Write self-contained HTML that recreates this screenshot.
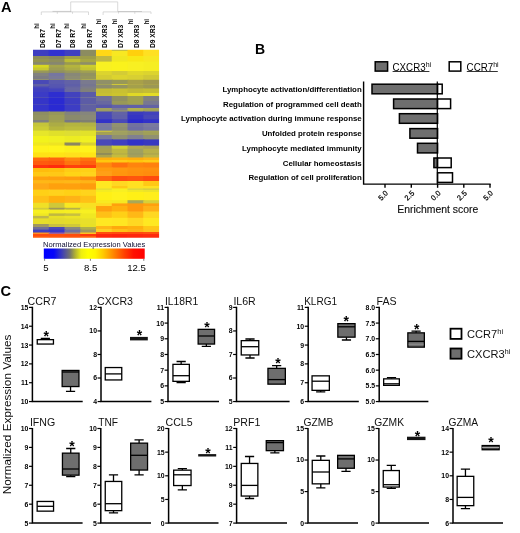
<!DOCTYPE html>
<html><head><meta charset="utf-8"><title>Figure</title>
<style>
html,body{margin:0;padding:0;background:#fff;}
body{width:520px;height:533px;overflow:hidden;font-family:'Liberation Sans', sans-serif;}
svg{display:block;will-change:transform;font-family:"Liberation Sans",sans-serif;}
</style></head><body>
<svg width="520" height="533" viewBox="0 0 520 533">
<rect width="520" height="533" fill="#fff"/>
<text x="0.9" y="12.15" font-size="14.6" font-weight="bold">A</text>
<g stroke="#cacaca" stroke-width="0.7" fill="none">
<path d="M70.7 11.9 V1.9 H117.7 V11.9"/>
<path d="M41.3 15 V11.9 H88.5 V15 M57.3 11.9 V13.8 M72.5 11.9 V13.8"/>
<path d="M103.1 15 V11.9 H151 V14 M134.8 11.9 V13.8 M118.5 11.9 V13.5"/>
<path d="M52.5 11.4 H71.2 M118 11.5 H142" stroke="#b4b4b4" stroke-width="0.6"/>
</g>
<text transform="translate(45.3,48) rotate(-90) scale(0.89,1)" font-size="7.5" font-weight="bold">D6 R7<tspan dy="-6.0" dx="0.4" font-size="6.8">hi</tspan></text>
<text transform="translate(61.0,48) rotate(-90) scale(0.89,1)" font-size="7.5" font-weight="bold">D7 R7<tspan dy="-6.0" dx="0.4" font-size="6.8">hi</tspan></text>
<text transform="translate(74.9,48) rotate(-90) scale(0.89,1)" font-size="7.5" font-weight="bold">D8 R7<tspan dy="-6.0" dx="0.4" font-size="6.8">hi</tspan></text>
<text transform="translate(92.3,48) rotate(-90) scale(0.89,1)" font-size="7.5" font-weight="bold">D9 R7<tspan dy="-6.0" dx="0.4" font-size="6.8">hi</tspan></text>
<text transform="translate(107.4,48) rotate(-90) scale(0.89,1)" font-size="7.5" font-weight="bold">D6 XR3<tspan dy="-6.0" dx="0.4" font-size="6.8">hi</tspan></text>
<text transform="translate(123.3,48) rotate(-90) scale(0.89,1)" font-size="7.5" font-weight="bold">D7 XR3<tspan dy="-6.0" dx="0.4" font-size="6.8">hi</tspan></text>
<text transform="translate(139.2,48) rotate(-90) scale(0.89,1)" font-size="7.5" font-weight="bold">D8 XR3<tspan dy="-6.0" dx="0.4" font-size="6.8">hi</tspan></text>
<text transform="translate(154.6,48) rotate(-90) scale(0.89,1)" font-size="7.5" font-weight="bold">D9 XR3<tspan dy="-6.0" dx="0.4" font-size="6.8">hi</tspan></text>
<defs><clipPath id="hc"><rect x="33.0" y="49.8" width="126.1" height="188.0"/></clipPath><filter id="hb" x="-5%" y="-5%" width="110%" height="110%"><feGaussianBlur stdDeviation="0.45 0.5"/></filter></defs>
<g clip-path="url(#hc)"><g filter="url(#hb)">
<rect x="30.00" y="47.00" width="19.95" height="10.20" fill="#3c3cc0"/>
<rect x="48.75" y="47.00" width="16.95" height="10.20" fill="#3030d0"/>
<rect x="64.50" y="47.00" width="16.95" height="10.20" fill="#4040c0"/>
<rect x="80.25" y="47.00" width="16.95" height="10.20" fill="#8c8c60"/>
<rect x="30.00" y="56.00" width="19.95" height="4.20" fill="#8c8c58"/>
<rect x="48.75" y="56.00" width="16.95" height="4.20" fill="#86865e"/>
<rect x="64.50" y="56.00" width="16.95" height="4.20" fill="#a0a044"/>
<rect x="80.25" y="56.00" width="16.95" height="4.20" fill="#9c9c4c"/>
<rect x="30.00" y="59.00" width="19.95" height="4.40" fill="#949450"/>
<rect x="48.75" y="59.00" width="16.95" height="4.40" fill="#8e8e5c"/>
<rect x="64.50" y="59.00" width="16.95" height="4.40" fill="#bcbc34"/>
<rect x="80.25" y="59.00" width="16.95" height="4.40" fill="#a6a644"/>
<rect x="30.00" y="62.20" width="19.95" height="3.80" fill="#888870"/>
<rect x="48.75" y="62.20" width="16.95" height="3.80" fill="#868672"/>
<rect x="64.50" y="62.20" width="16.95" height="3.80" fill="#9a9a50"/>
<rect x="80.25" y="62.20" width="16.95" height="3.80" fill="#8e8e68"/>
<rect x="30.00" y="64.80" width="19.95" height="4.00" fill="#d8d824"/>
<rect x="48.75" y="64.80" width="16.95" height="4.00" fill="#a4a44e"/>
<rect x="64.50" y="64.80" width="16.95" height="4.00" fill="#b4b43e"/>
<rect x="80.25" y="64.80" width="16.95" height="4.00" fill="#cccc2e"/>
<rect x="30.00" y="67.60" width="19.95" height="4.00" fill="#c8c830"/>
<rect x="48.75" y="67.60" width="16.95" height="4.00" fill="#9c9c54"/>
<rect x="64.50" y="67.60" width="16.95" height="4.00" fill="#acac44"/>
<rect x="80.25" y="67.60" width="16.95" height="4.00" fill="#c4c432"/>
<rect x="30.00" y="70.40" width="19.95" height="3.70" fill="#98985a"/>
<rect x="48.75" y="70.40" width="16.95" height="3.70" fill="#90905e"/>
<rect x="64.50" y="70.40" width="16.95" height="3.70" fill="#98985a"/>
<rect x="80.25" y="70.40" width="16.95" height="3.70" fill="#a0a052"/>
<rect x="30.00" y="72.90" width="19.95" height="4.30" fill="#828280"/>
<rect x="48.75" y="72.90" width="16.95" height="4.30" fill="#7676a0"/>
<rect x="64.50" y="72.90" width="16.95" height="4.30" fill="#888878"/>
<rect x="80.25" y="72.90" width="16.95" height="4.30" fill="#929260"/>
<rect x="30.00" y="76.00" width="19.95" height="4.20" fill="#7c7c84"/>
<rect x="48.75" y="76.00" width="16.95" height="4.20" fill="#7a7a98"/>
<rect x="64.50" y="76.00" width="16.95" height="4.20" fill="#8c8c74"/>
<rect x="80.25" y="76.00" width="16.95" height="4.20" fill="#96965c"/>
<rect x="30.00" y="79.00" width="19.95" height="2.00" fill="#a0a060"/>
<rect x="48.75" y="79.00" width="16.95" height="2.00" fill="#8c8c70"/>
<rect x="64.50" y="79.00" width="16.95" height="2.00" fill="#a4a458"/>
<rect x="80.25" y="79.00" width="16.95" height="2.00" fill="#b4b444"/>
<rect x="30.00" y="79.80" width="19.95" height="5.40" fill="#4a4ab6"/>
<rect x="48.75" y="79.80" width="16.95" height="5.40" fill="#5a5aae"/>
<rect x="64.50" y="79.80" width="16.95" height="5.40" fill="#6262a6"/>
<rect x="80.25" y="79.80" width="16.95" height="5.40" fill="#7a7a8e"/>
<rect x="30.00" y="84.00" width="19.95" height="3.70" fill="#6060a4"/>
<rect x="48.75" y="84.00" width="16.95" height="3.70" fill="#5656b0"/>
<rect x="64.50" y="84.00" width="16.95" height="3.70" fill="#5e5ea8"/>
<rect x="80.25" y="84.00" width="16.95" height="3.70" fill="#767690"/>
<rect x="30.00" y="86.50" width="19.95" height="3.20" fill="#4646ba"/>
<rect x="48.75" y="86.50" width="16.95" height="3.20" fill="#5252b2"/>
<rect x="64.50" y="86.50" width="16.95" height="3.20" fill="#6666a2"/>
<rect x="80.25" y="86.50" width="16.95" height="3.20" fill="#7c7c88"/>
<rect x="30.00" y="88.50" width="19.95" height="4.70" fill="#4040c0"/>
<rect x="48.75" y="88.50" width="16.95" height="4.70" fill="#4444bc"/>
<rect x="64.50" y="88.50" width="16.95" height="4.70" fill="#6868a0"/>
<rect x="80.25" y="88.50" width="16.95" height="4.70" fill="#80807a"/>
<rect x="30.00" y="92.00" width="19.95" height="6.20" fill="#3a3ac6"/>
<rect x="48.75" y="92.00" width="16.95" height="6.20" fill="#2e2ed0"/>
<rect x="64.50" y="92.00" width="16.95" height="6.20" fill="#4242be"/>
<rect x="80.25" y="92.00" width="16.95" height="6.20" fill="#5a5aa8"/>
<rect x="30.00" y="97.00" width="19.95" height="2.20" fill="#4c4cb6"/>
<rect x="48.75" y="97.00" width="16.95" height="2.20" fill="#3a3ac8"/>
<rect x="64.50" y="97.00" width="16.95" height="2.20" fill="#5252b0"/>
<rect x="80.25" y="97.00" width="16.95" height="2.20" fill="#70709a"/>
<rect x="30.00" y="98.00" width="19.95" height="7.20" fill="#3636c8"/>
<rect x="48.75" y="98.00" width="16.95" height="7.20" fill="#2a2ad2"/>
<rect x="64.50" y="98.00" width="16.95" height="7.20" fill="#3e3ec2"/>
<rect x="80.25" y="98.00" width="16.95" height="7.20" fill="#5c5ca6"/>
<rect x="30.00" y="104.00" width="19.95" height="2.20" fill="#4646ba"/>
<rect x="48.75" y="104.00" width="16.95" height="2.20" fill="#3636ca"/>
<rect x="64.50" y="104.00" width="16.95" height="2.20" fill="#4a4ab8"/>
<rect x="80.25" y="104.00" width="16.95" height="2.20" fill="#6c6c9a"/>
<rect x="30.00" y="105.00" width="19.95" height="7.70" fill="#3434ca"/>
<rect x="48.75" y="105.00" width="16.95" height="7.70" fill="#2a2ad2"/>
<rect x="64.50" y="105.00" width="16.95" height="7.70" fill="#3c3cc4"/>
<rect x="80.25" y="105.00" width="16.95" height="7.70" fill="#6060a2"/>
<rect x="30.00" y="111.50" width="19.95" height="4.70" fill="#8e8e62"/>
<rect x="48.75" y="111.50" width="16.95" height="4.70" fill="#96965a"/>
<rect x="64.50" y="111.50" width="16.95" height="4.70" fill="#84847a"/>
<rect x="80.25" y="111.50" width="16.95" height="4.70" fill="#86867c"/>
<rect x="30.00" y="115.00" width="19.95" height="6.20" fill="#929260"/>
<rect x="48.75" y="115.00" width="16.95" height="6.20" fill="#9c9c56"/>
<rect x="64.50" y="115.00" width="16.95" height="6.20" fill="#8a8a6c"/>
<rect x="80.25" y="115.00" width="16.95" height="6.20" fill="#8a8a76"/>
<rect x="30.00" y="120.00" width="19.95" height="3.70" fill="#808080"/>
<rect x="48.75" y="120.00" width="16.95" height="3.70" fill="#a0a050"/>
<rect x="64.50" y="120.00" width="16.95" height="3.70" fill="#787884"/>
<rect x="80.25" y="120.00" width="16.95" height="3.70" fill="#808072"/>
<rect x="30.00" y="122.50" width="19.95" height="5.20" fill="#c4c43a"/>
<rect x="48.75" y="122.50" width="16.95" height="5.20" fill="#acac44"/>
<rect x="64.50" y="122.50" width="16.95" height="5.20" fill="#b4b440"/>
<rect x="80.25" y="122.50" width="16.95" height="5.20" fill="#b2b244"/>
<rect x="30.00" y="126.50" width="19.95" height="5.30" fill="#cccc34"/>
<rect x="48.75" y="126.50" width="16.95" height="5.30" fill="#b6b63e"/>
<rect x="64.50" y="126.50" width="32.70" height="5.30" fill="#bcbc3c"/>
<rect x="30.00" y="130.60" width="19.95" height="6.60" fill="#e6e62a"/>
<rect x="48.75" y="130.60" width="16.95" height="6.60" fill="#e0e02c"/>
<rect x="64.50" y="130.60" width="16.95" height="6.60" fill="#dede30"/>
<rect x="80.25" y="130.60" width="16.95" height="6.60" fill="#e2e22c"/>
<rect x="30.00" y="136.00" width="19.95" height="7.70" fill="#f2f21e"/>
<rect x="48.75" y="136.00" width="16.95" height="7.70" fill="#f0f020"/>
<rect x="64.50" y="136.00" width="16.95" height="7.70" fill="#ecec24"/>
<rect x="80.25" y="136.00" width="16.95" height="7.70" fill="#f0f020"/>
<rect x="30.00" y="142.50" width="19.95" height="4.30" fill="#f0e820"/>
<rect x="48.75" y="142.50" width="16.95" height="4.30" fill="#eee422"/>
<rect x="64.50" y="142.50" width="16.95" height="4.30" fill="#8c8860"/>
<rect x="80.25" y="142.50" width="16.95" height="4.30" fill="#d8d030"/>
<rect x="30.00" y="145.60" width="19.95" height="8.10" fill="#fff21a"/>
<rect x="48.75" y="145.60" width="16.95" height="8.10" fill="#fff41a"/>
<rect x="64.50" y="145.60" width="16.95" height="8.10" fill="#fcf01c"/>
<rect x="80.25" y="145.60" width="16.95" height="8.10" fill="#fff21a"/>
<rect x="30.00" y="152.50" width="19.95" height="6.20" fill="#ffe218"/>
<rect x="48.75" y="152.50" width="16.95" height="6.20" fill="#ffe418"/>
<rect x="64.50" y="152.50" width="16.95" height="6.20" fill="#ffe01a"/>
<rect x="80.25" y="152.50" width="16.95" height="6.20" fill="#ffe418"/>
<rect x="30.00" y="157.50" width="19.95" height="4.70" fill="#ff6a10"/>
<rect x="48.75" y="157.50" width="16.95" height="4.70" fill="#ff6410"/>
<rect x="64.50" y="157.50" width="16.95" height="4.70" fill="#ff8410"/>
<rect x="80.25" y="157.50" width="16.95" height="4.70" fill="#ff7010"/>
<rect x="30.00" y="161.00" width="19.95" height="5.20" fill="#ff5a0e"/>
<rect x="48.75" y="161.00" width="16.95" height="5.20" fill="#ff560e"/>
<rect x="64.50" y="161.00" width="16.95" height="5.20" fill="#ff7410"/>
<rect x="80.25" y="161.00" width="16.95" height="5.20" fill="#ff600e"/>
<rect x="30.00" y="165.00" width="19.95" height="4.20" fill="#ff3008"/>
<rect x="48.75" y="165.00" width="16.95" height="4.20" fill="#ff2c08"/>
<rect x="64.50" y="165.00" width="16.95" height="4.20" fill="#ff4008"/>
<rect x="80.25" y="165.00" width="16.95" height="4.20" fill="#ff3c08"/>
<rect x="30.00" y="168.00" width="19.95" height="5.20" fill="#ffbc10"/>
<rect x="48.75" y="168.00" width="16.95" height="5.20" fill="#ffc010"/>
<rect x="64.50" y="168.00" width="16.95" height="5.20" fill="#ffcc16"/>
<rect x="80.25" y="168.00" width="16.95" height="5.20" fill="#ffd018"/>
<rect x="30.00" y="172.00" width="35.70" height="5.70" fill="#ffc814"/>
<rect x="64.50" y="172.00" width="16.95" height="5.70" fill="#ffd418"/>
<rect x="80.25" y="172.00" width="16.95" height="5.70" fill="#ffd41a"/>
<rect x="30.00" y="176.50" width="19.95" height="4.90" fill="#ffa210"/>
<rect x="48.75" y="176.50" width="16.95" height="4.90" fill="#ffa010"/>
<rect x="64.50" y="176.50" width="16.95" height="4.90" fill="#ff9c10"/>
<rect x="80.25" y="176.50" width="16.95" height="4.90" fill="#ff9010"/>
<rect x="30.00" y="180.20" width="19.95" height="4.40" fill="#ffb818"/>
<rect x="48.75" y="180.20" width="16.95" height="4.40" fill="#ffb616"/>
<rect x="64.50" y="180.20" width="16.95" height="4.40" fill="#ffb818"/>
<rect x="80.25" y="180.20" width="16.95" height="4.40" fill="#ffb416"/>
<rect x="30.00" y="183.40" width="19.95" height="7.40" fill="#ffa818"/>
<rect x="48.75" y="183.40" width="32.70" height="7.40" fill="#ffa010"/>
<rect x="80.25" y="183.40" width="16.95" height="7.40" fill="#ff9c10"/>
<rect x="30.00" y="189.60" width="19.95" height="7.50" fill="#ffd018"/>
<rect x="48.75" y="189.60" width="16.95" height="7.50" fill="#ffd21a"/>
<rect x="64.50" y="189.60" width="16.95" height="7.50" fill="#ffd018"/>
<rect x="80.25" y="189.60" width="16.95" height="7.50" fill="#ffd41a"/>
<rect x="30.00" y="195.90" width="19.95" height="8.10" fill="#ffc018"/>
<rect x="48.75" y="195.90" width="16.95" height="8.10" fill="#ffb010"/>
<rect x="64.50" y="195.90" width="16.95" height="8.10" fill="#ffb212"/>
<rect x="80.25" y="195.90" width="16.95" height="8.10" fill="#ffc018"/>
<rect x="30.00" y="202.80" width="19.95" height="6.20" fill="#f0e028"/>
<rect x="48.75" y="202.80" width="16.95" height="6.20" fill="#d0c838"/>
<rect x="64.50" y="202.80" width="16.95" height="6.20" fill="#f8e820"/>
<rect x="80.25" y="202.80" width="16.95" height="6.20" fill="#f8e020"/>
<rect x="30.00" y="207.80" width="19.95" height="3.00" fill="#d4cc38"/>
<rect x="48.75" y="207.80" width="16.95" height="3.00" fill="#a09858"/>
<rect x="64.50" y="207.80" width="16.95" height="3.00" fill="#b8b048"/>
<rect x="80.25" y="207.80" width="16.95" height="3.00" fill="#f0e428"/>
<rect x="30.00" y="209.60" width="19.95" height="5.00" fill="#f8f020"/>
<rect x="48.75" y="209.60" width="16.95" height="5.00" fill="#f4ec22"/>
<rect x="64.50" y="209.60" width="16.95" height="5.00" fill="#f6ee20"/>
<rect x="80.25" y="209.60" width="16.95" height="5.00" fill="#f8f020"/>
<rect x="30.00" y="213.40" width="19.95" height="3.70" fill="#f0e824"/>
<rect x="48.75" y="213.40" width="16.95" height="3.70" fill="#c0b840"/>
<rect x="64.50" y="213.40" width="16.95" height="3.70" fill="#c8c040"/>
<rect x="80.25" y="213.40" width="16.95" height="3.70" fill="#f0e824"/>
<rect x="30.00" y="215.90" width="19.95" height="3.70" fill="#c0b848"/>
<rect x="48.75" y="215.90" width="16.95" height="3.70" fill="#e8e028"/>
<rect x="64.50" y="215.90" width="16.95" height="3.70" fill="#ece426"/>
<rect x="80.25" y="215.90" width="16.95" height="3.70" fill="#f0e824"/>
<rect x="30.00" y="218.40" width="19.95" height="6.80" fill="#e6de2a"/>
<rect x="48.75" y="218.40" width="16.95" height="6.80" fill="#e2da2e"/>
<rect x="64.50" y="218.40" width="16.95" height="6.80" fill="#e4dc2c"/>
<rect x="80.25" y="218.40" width="16.95" height="6.80" fill="#e8e02a"/>
<rect x="30.00" y="224.00" width="19.95" height="4.20" fill="#a09860"/>
<rect x="48.75" y="224.00" width="16.95" height="4.20" fill="#c8c040"/>
<rect x="64.50" y="224.00" width="16.95" height="4.20" fill="#d0c838"/>
<rect x="80.25" y="224.00" width="16.95" height="4.20" fill="#e8e028"/>
<rect x="30.00" y="227.00" width="19.95" height="3.80" fill="#707098"/>
<rect x="48.75" y="227.00" width="16.95" height="3.80" fill="#4848b8"/>
<rect x="64.50" y="227.00" width="16.95" height="3.80" fill="#888880"/>
<rect x="80.25" y="227.00" width="16.95" height="3.80" fill="#b0b048"/>
<rect x="30.00" y="229.60" width="19.95" height="4.10" fill="#4040c0"/>
<rect x="48.75" y="229.60" width="16.95" height="4.10" fill="#3838c8"/>
<rect x="64.50" y="229.60" width="16.95" height="4.10" fill="#7070a0"/>
<rect x="80.25" y="229.60" width="16.95" height="4.10" fill="#a09860"/>
<rect x="30.00" y="232.50" width="19.95" height="2.70" fill="#ff9020"/>
<rect x="48.75" y="232.50" width="16.95" height="2.70" fill="#a0609a"/>
<rect x="64.50" y="232.50" width="16.95" height="2.70" fill="#c08860"/>
<rect x="80.25" y="232.50" width="16.95" height="2.70" fill="#ffc020"/>
<rect x="30.00" y="234.00" width="19.95" height="3.20" fill="#ff4c10"/>
<rect x="48.75" y="234.00" width="16.95" height="3.20" fill="#ff5010"/>
<rect x="64.50" y="234.00" width="16.95" height="3.20" fill="#ff4c10"/>
<rect x="80.25" y="234.00" width="16.95" height="3.20" fill="#ff3808"/>
<rect x="30.00" y="236.00" width="19.95" height="6.20" fill="#ff5c10"/>
<rect x="48.75" y="236.00" width="16.95" height="6.20" fill="#ff5810"/>
<rect x="64.50" y="236.00" width="16.95" height="6.20" fill="#ff5410"/>
<rect x="80.25" y="236.00" width="16.95" height="6.20" fill="#ff6010"/>
<rect x="96.00" y="47.00" width="16.95" height="5.20" fill="#ffd818"/>
<rect x="111.75" y="47.00" width="16.95" height="5.20" fill="#c8c040"/>
<rect x="127.50" y="47.00" width="16.95" height="5.20" fill="#ffd010"/>
<rect x="143.25" y="47.00" width="19.95" height="5.20" fill="#ffe020"/>
<rect x="96.00" y="51.00" width="16.95" height="6.20" fill="#ffd818"/>
<rect x="111.75" y="51.00" width="16.95" height="6.20" fill="#f8e820"/>
<rect x="127.50" y="51.00" width="16.95" height="6.20" fill="#ffd010"/>
<rect x="143.25" y="51.00" width="19.95" height="6.20" fill="#ffe020"/>
<rect x="96.00" y="56.00" width="16.95" height="6.80" fill="#c0b840"/>
<rect x="111.75" y="56.00" width="16.95" height="6.80" fill="#f0e820"/>
<rect x="127.50" y="56.00" width="16.95" height="6.80" fill="#f8e818"/>
<rect x="143.25" y="56.00" width="19.95" height="6.80" fill="#f8e820"/>
<rect x="96.00" y="61.60" width="16.95" height="10.60" fill="#f8f020"/>
<rect x="111.75" y="61.60" width="16.95" height="10.60" fill="#faf21e"/>
<rect x="127.50" y="61.60" width="16.95" height="10.60" fill="#f8f020"/>
<rect x="143.25" y="61.60" width="19.95" height="10.60" fill="#f6ee22"/>
<rect x="96.00" y="71.00" width="16.95" height="5.20" fill="#dcd42e"/>
<rect x="111.75" y="71.00" width="16.95" height="5.20" fill="#d4cc34"/>
<rect x="127.50" y="71.00" width="16.95" height="5.20" fill="#e0d82c"/>
<rect x="143.25" y="71.00" width="19.95" height="5.20" fill="#dcd42e"/>
<rect x="96.00" y="75.00" width="16.95" height="6.00" fill="#d4cc32"/>
<rect x="111.75" y="75.00" width="16.95" height="6.00" fill="#dcd42e"/>
<rect x="127.50" y="75.00" width="16.95" height="6.00" fill="#d8d030"/>
<rect x="143.25" y="75.00" width="19.95" height="6.00" fill="#d0c836"/>
<rect x="96.00" y="79.80" width="16.95" height="5.40" fill="#909068"/>
<rect x="111.75" y="79.80" width="16.95" height="5.40" fill="#989858"/>
<rect x="127.50" y="79.80" width="16.95" height="5.40" fill="#a8a048"/>
<rect x="143.25" y="79.80" width="19.95" height="5.40" fill="#a09850"/>
<rect x="96.00" y="84.00" width="16.95" height="2.20" fill="#a0a058"/>
<rect x="111.75" y="84.00" width="16.95" height="2.20" fill="#d0c838"/>
<rect x="127.50" y="84.00" width="16.95" height="2.20" fill="#b0a848"/>
<rect x="143.25" y="84.00" width="19.95" height="2.20" fill="#a8a04c"/>
<rect x="96.00" y="85.00" width="16.95" height="4.70" fill="#8c8c6c"/>
<rect x="111.75" y="85.00" width="16.95" height="4.70" fill="#949460"/>
<rect x="127.50" y="85.00" width="16.95" height="4.70" fill="#a4a04c"/>
<rect x="143.25" y="85.00" width="19.95" height="4.70" fill="#9c9854"/>
<rect x="96.00" y="88.50" width="16.95" height="5.70" fill="#c4bc34"/>
<rect x="111.75" y="88.50" width="16.95" height="5.70" fill="#c8c030"/>
<rect x="127.50" y="88.50" width="16.95" height="5.70" fill="#c0b838"/>
<rect x="143.25" y="88.50" width="19.95" height="5.70" fill="#c4bc36"/>
<rect x="96.00" y="93.00" width="16.95" height="4.20" fill="#c8c030"/>
<rect x="111.75" y="93.00" width="16.95" height="4.20" fill="#ccc42e"/>
<rect x="127.50" y="93.00" width="16.95" height="4.20" fill="#e0d828"/>
<rect x="143.25" y="93.00" width="19.95" height="4.20" fill="#e4dc26"/>
<rect x="96.00" y="96.00" width="16.95" height="6.20" fill="#707098"/>
<rect x="111.75" y="96.00" width="16.95" height="6.20" fill="#909060"/>
<rect x="127.50" y="96.00" width="16.95" height="6.20" fill="#a0a050"/>
<rect x="143.25" y="96.00" width="19.95" height="6.20" fill="#808080"/>
<rect x="96.00" y="101.00" width="16.95" height="5.00" fill="#6868a0"/>
<rect x="111.75" y="101.00" width="16.95" height="5.00" fill="#989858"/>
<rect x="127.50" y="101.00" width="16.95" height="5.00" fill="#a0a050"/>
<rect x="143.25" y="101.00" width="19.95" height="5.00" fill="#787890"/>
<rect x="96.00" y="104.80" width="16.95" height="4.40" fill="#5858a8"/>
<rect x="111.75" y="104.80" width="16.95" height="4.40" fill="#6262a6"/>
<rect x="127.50" y="104.80" width="16.95" height="4.40" fill="#6060a8"/>
<rect x="143.25" y="104.80" width="19.95" height="4.40" fill="#6464a4"/>
<rect x="96.00" y="108.00" width="16.95" height="3.60" fill="#a0a060"/>
<rect x="111.75" y="108.00" width="16.95" height="3.60" fill="#7c7c90"/>
<rect x="127.50" y="108.00" width="16.95" height="3.60" fill="#b0b050"/>
<rect x="143.25" y="108.00" width="19.95" height="3.60" fill="#a4a458"/>
<rect x="96.00" y="110.40" width="16.95" height="2.30" fill="#9c9c60"/>
<rect x="111.75" y="110.40" width="16.95" height="2.30" fill="#989866"/>
<rect x="127.50" y="110.40" width="16.95" height="2.30" fill="#a8a858"/>
<rect x="143.25" y="110.40" width="19.95" height="2.30" fill="#a0a05c"/>
<rect x="96.00" y="111.50" width="16.95" height="4.70" fill="#4a4ab6"/>
<rect x="111.75" y="111.50" width="16.95" height="4.70" fill="#6262a6"/>
<rect x="127.50" y="111.50" width="16.95" height="4.70" fill="#3a3abe"/>
<rect x="143.25" y="111.50" width="19.95" height="4.70" fill="#4242bc"/>
<rect x="96.00" y="115.00" width="16.95" height="5.60" fill="#4646ba"/>
<rect x="111.75" y="115.00" width="16.95" height="5.60" fill="#5e5eaa"/>
<rect x="127.50" y="115.00" width="16.95" height="5.60" fill="#3636c4"/>
<rect x="143.25" y="115.00" width="19.95" height="5.60" fill="#4646b8"/>
<rect x="96.00" y="119.40" width="16.95" height="4.80" fill="#3030c8"/>
<rect x="111.75" y="119.40" width="16.95" height="4.80" fill="#4848b8"/>
<rect x="127.50" y="119.40" width="16.95" height="4.80" fill="#2c2ccc"/>
<rect x="143.25" y="119.40" width="19.95" height="4.80" fill="#3232c8"/>
<rect x="96.00" y="123.00" width="16.95" height="5.20" fill="#7a7a9e"/>
<rect x="111.75" y="123.00" width="16.95" height="5.20" fill="#929270"/>
<rect x="127.50" y="123.00" width="16.95" height="5.20" fill="#72729e"/>
<rect x="143.25" y="123.00" width="19.95" height="5.20" fill="#7a7a9e"/>
<rect x="96.00" y="127.00" width="16.95" height="4.80" fill="#767aa0"/>
<rect x="111.75" y="127.00" width="16.95" height="4.80" fill="#8e8e70"/>
<rect x="127.50" y="127.00" width="16.95" height="4.80" fill="#6e6ea2"/>
<rect x="143.25" y="127.00" width="19.95" height="4.80" fill="#7676a0"/>
<rect x="96.00" y="130.60" width="16.95" height="2.60" fill="#c8c040"/>
<rect x="111.75" y="130.60" width="16.95" height="2.60" fill="#a4a45c"/>
<rect x="127.50" y="130.60" width="16.95" height="2.60" fill="#9c9c64"/>
<rect x="143.25" y="130.60" width="19.95" height="2.60" fill="#a4a454"/>
<rect x="96.00" y="132.00" width="16.95" height="4.20" fill="#a4a054"/>
<rect x="111.75" y="132.00" width="16.95" height="4.20" fill="#a0a060"/>
<rect x="127.50" y="132.00" width="16.95" height="4.20" fill="#989868"/>
<rect x="143.25" y="132.00" width="19.95" height="4.20" fill="#a0a058"/>
<rect x="96.00" y="135.00" width="16.95" height="5.60" fill="#7878a0"/>
<rect x="111.75" y="135.00" width="16.95" height="5.60" fill="#909070"/>
<rect x="127.50" y="135.00" width="16.95" height="5.60" fill="#808090"/>
<rect x="143.25" y="135.00" width="19.95" height="5.60" fill="#909070"/>
<rect x="96.00" y="139.40" width="16.95" height="7.40" fill="#4848b8"/>
<rect x="111.75" y="139.40" width="16.95" height="7.40" fill="#4040c0"/>
<rect x="127.50" y="139.40" width="16.95" height="7.40" fill="#3030c8"/>
<rect x="143.25" y="139.40" width="19.95" height="7.40" fill="#3838c0"/>
<rect x="96.00" y="145.60" width="16.95" height="4.40" fill="#a0a058"/>
<rect x="111.75" y="145.60" width="16.95" height="4.40" fill="#d0d030"/>
<rect x="127.50" y="145.60" width="16.95" height="4.40" fill="#b0a850"/>
<rect x="143.25" y="145.60" width="19.95" height="4.40" fill="#a8a058"/>
<rect x="96.00" y="148.80" width="16.95" height="5.90" fill="#a8a050"/>
<rect x="111.75" y="148.80" width="16.95" height="5.90" fill="#c0b840"/>
<rect x="127.50" y="148.80" width="16.95" height="5.90" fill="#a0a060"/>
<rect x="143.25" y="148.80" width="19.95" height="5.90" fill="#b8b048"/>
<rect x="96.00" y="153.50" width="16.95" height="2.20" fill="#787860"/>
<rect x="111.75" y="153.50" width="16.95" height="2.20" fill="#b0a848"/>
<rect x="127.50" y="153.50" width="16.95" height="2.20" fill="#989860"/>
<rect x="143.25" y="153.50" width="19.95" height="2.20" fill="#a8a050"/>
<rect x="96.00" y="154.50" width="16.95" height="4.20" fill="#aca44e"/>
<rect x="111.75" y="154.50" width="16.95" height="4.20" fill="#c4bc3c"/>
<rect x="127.50" y="154.50" width="16.95" height="4.20" fill="#a4a05c"/>
<rect x="143.25" y="154.50" width="19.95" height="4.20" fill="#bcb446"/>
<rect x="96.00" y="157.50" width="16.95" height="3.70" fill="#ffb010"/>
<rect x="111.75" y="157.50" width="16.95" height="3.70" fill="#ffb210"/>
<rect x="127.50" y="157.50" width="16.95" height="3.70" fill="#ffae10"/>
<rect x="143.25" y="157.50" width="19.95" height="3.70" fill="#ffb412"/>
<rect x="96.00" y="160.00" width="16.95" height="3.70" fill="#ffc810"/>
<rect x="111.75" y="160.00" width="16.95" height="3.70" fill="#ffca12"/>
<rect x="127.50" y="160.00" width="16.95" height="3.70" fill="#ffc610"/>
<rect x="143.25" y="160.00" width="19.95" height="3.70" fill="#ffcc14"/>
<rect x="96.00" y="162.50" width="16.95" height="6.20" fill="#ff8808"/>
<rect x="111.75" y="162.50" width="16.95" height="6.20" fill="#ff7008"/>
<rect x="127.50" y="162.50" width="16.95" height="6.20" fill="#ff8408"/>
<rect x="143.25" y="162.50" width="19.95" height="6.20" fill="#ff8008"/>
<rect x="96.00" y="167.50" width="16.95" height="5.20" fill="#ff9c10"/>
<rect x="111.75" y="167.50" width="16.95" height="5.20" fill="#ff9810"/>
<rect x="127.50" y="167.50" width="16.95" height="5.20" fill="#ff9210"/>
<rect x="143.25" y="167.50" width="19.95" height="5.20" fill="#ff9010"/>
<rect x="96.00" y="171.50" width="16.95" height="5.70" fill="#ffa018"/>
<rect x="111.75" y="171.50" width="16.95" height="5.70" fill="#ff9610"/>
<rect x="127.50" y="171.50" width="16.95" height="5.70" fill="#ff9010"/>
<rect x="143.25" y="171.50" width="19.95" height="5.70" fill="#ff8c10"/>
<rect x="96.00" y="176.00" width="16.95" height="6.20" fill="#ff6810"/>
<rect x="111.75" y="176.00" width="16.95" height="6.20" fill="#ff5008"/>
<rect x="127.50" y="176.00" width="16.95" height="6.20" fill="#ff5408"/>
<rect x="143.25" y="176.00" width="19.95" height="6.20" fill="#ff4c08"/>
<rect x="96.00" y="181.00" width="16.95" height="6.20" fill="#ffe820"/>
<rect x="111.75" y="181.00" width="16.95" height="6.20" fill="#ffd820"/>
<rect x="127.50" y="181.00" width="16.95" height="6.20" fill="#ffe020"/>
<rect x="143.25" y="181.00" width="19.95" height="6.20" fill="#ffc818"/>
<rect x="96.00" y="186.00" width="16.95" height="3.60" fill="#ffe820"/>
<rect x="111.75" y="186.00" width="16.95" height="3.60" fill="#ffc818"/>
<rect x="127.50" y="186.00" width="35.70" height="3.60" fill="#ffe020"/>
<rect x="96.00" y="188.40" width="16.95" height="2.80" fill="#e8e030"/>
<rect x="111.75" y="188.40" width="16.95" height="2.80" fill="#f8f020"/>
<rect x="127.50" y="188.40" width="16.95" height="2.80" fill="#dcd83c"/>
<rect x="143.25" y="188.40" width="19.95" height="2.80" fill="#d8d040"/>
<rect x="96.00" y="190.00" width="16.95" height="3.20" fill="#f4ec24"/>
<rect x="111.75" y="190.00" width="16.95" height="3.20" fill="#f8f020"/>
<rect x="127.50" y="190.00" width="16.95" height="3.20" fill="#f0e828"/>
<rect x="143.25" y="190.00" width="19.95" height="3.20" fill="#ece42c"/>
<rect x="96.00" y="192.00" width="16.95" height="9.40" fill="#fff018"/>
<rect x="111.75" y="192.00" width="16.95" height="9.40" fill="#fff21a"/>
<rect x="127.50" y="192.00" width="16.95" height="9.40" fill="#fff018"/>
<rect x="143.25" y="192.00" width="19.95" height="9.40" fill="#ffee1a"/>
<rect x="96.00" y="200.20" width="16.95" height="4.40" fill="#f8e820"/>
<rect x="111.75" y="200.20" width="16.95" height="4.40" fill="#f6e822"/>
<rect x="127.50" y="200.20" width="16.95" height="4.40" fill="#a8a858"/>
<rect x="143.25" y="200.20" width="19.95" height="4.40" fill="#d8d038"/>
<rect x="96.00" y="203.40" width="16.95" height="3.80" fill="#ffd820"/>
<rect x="111.75" y="203.40" width="16.95" height="3.80" fill="#ffa010"/>
<rect x="127.50" y="203.40" width="16.95" height="3.80" fill="#ff9810"/>
<rect x="143.25" y="203.40" width="19.95" height="3.80" fill="#ffa010"/>
<rect x="96.00" y="206.00" width="16.95" height="6.70" fill="#ffa010"/>
<rect x="111.75" y="206.00" width="16.95" height="6.70" fill="#ffb010"/>
<rect x="127.50" y="206.00" width="16.95" height="6.70" fill="#ff9810"/>
<rect x="143.25" y="206.00" width="19.95" height="6.70" fill="#ffb018"/>
<rect x="96.00" y="211.50" width="16.95" height="7.50" fill="#ffc018"/>
<rect x="111.75" y="211.50" width="16.95" height="7.50" fill="#ffd018"/>
<rect x="127.50" y="211.50" width="16.95" height="7.50" fill="#ffb818"/>
<rect x="143.25" y="211.50" width="19.95" height="7.50" fill="#ffd820"/>
<rect x="96.00" y="217.80" width="16.95" height="9.40" fill="#ffe820"/>
<rect x="111.75" y="217.80" width="16.95" height="9.40" fill="#ffe620"/>
<rect x="127.50" y="217.80" width="16.95" height="9.40" fill="#ffd820"/>
<rect x="143.25" y="217.80" width="19.95" height="9.40" fill="#ffe820"/>
<rect x="96.00" y="226.00" width="16.95" height="4.20" fill="#ffb818"/>
<rect x="111.75" y="226.00" width="16.95" height="4.20" fill="#ffa810"/>
<rect x="127.50" y="226.00" width="16.95" height="4.20" fill="#ffb010"/>
<rect x="143.25" y="226.00" width="19.95" height="4.20" fill="#ffc818"/>
<rect x="96.00" y="229.00" width="16.95" height="4.20" fill="#ffd020"/>
<rect x="111.75" y="229.00" width="16.95" height="4.20" fill="#ffc018"/>
<rect x="127.50" y="229.00" width="16.95" height="4.20" fill="#ffb414"/>
<rect x="143.25" y="229.00" width="19.95" height="4.20" fill="#ffc41a"/>
<rect x="96.00" y="232.00" width="16.95" height="3.20" fill="#ff5010"/>
<rect x="111.75" y="232.00" width="16.95" height="3.20" fill="#ff4c10"/>
<rect x="127.50" y="232.00" width="16.95" height="3.20" fill="#ff4810"/>
<rect x="143.25" y="232.00" width="19.95" height="3.20" fill="#ff5010"/>
<rect x="96.00" y="234.00" width="16.95" height="8.20" fill="#ff2808"/>
<rect x="111.75" y="234.00" width="16.95" height="8.20" fill="#ff2408"/>
<rect x="127.50" y="234.00" width="16.95" height="8.20" fill="#ff2808"/>
<rect x="143.25" y="234.00" width="19.95" height="8.20" fill="#ff2c08"/>
</g></g>
<defs><linearGradient id="cb" x1="0" x2="1" y1="0" y2="0"><stop offset="0" stop-color="#0000ff"/><stop offset="0.10" stop-color="#0606fa"/><stop offset="0.19" stop-color="#4444b0"/><stop offset="0.26" stop-color="#74746c"/><stop offset="0.31" stop-color="#b0b034"/><stop offset="0.37" stop-color="#eeee10"/><stop offset="0.44" stop-color="#ffff00"/><stop offset="0.51" stop-color="#fff400"/><stop offset="0.59" stop-color="#ffc800"/><stop offset="0.70" stop-color="#ff8000"/><stop offset="0.80" stop-color="#ff4000"/><stop offset="0.89" stop-color="#ff1000"/><stop offset="1" stop-color="#ff0000"/></linearGradient></defs>
<rect x="43.8" y="248.5" width="100.9" height="10.3" fill="url(#cb)"/>
<text x="94.2" y="246.7" font-size="7.55" text-anchor="middle" fill="#0c0c30">Normalized Expression Values</text>
<g stroke="#444" stroke-width="0.7"><path d="M44.6 258.8 V260.8 M90.4 258.8 V260.8 M143.8 258.8 V260.8"/></g>
<text x="45.9" y="270.7" font-size="9.6" text-anchor="middle">5</text>
<text x="90.6" y="270.7" font-size="9.6" text-anchor="middle">8.5</text>
<text x="136.5" y="270.7" font-size="9.6" text-anchor="middle">12.5</text>
<text x="255.0" y="53.5" font-size="14" font-weight="bold">B</text>
<rect x="375.2" y="61.8" width="12.4" height="9.3" fill="#6e6e6e" stroke="#000" stroke-width="1.5"/>
<text transform="translate(392.5,70.7) scale(0.95,1)" font-size="10.3">CXCR3<tspan dy="-3.9" font-size="7.4">hi</tspan></text>
<path d="M392.6 71.5 H429.4" stroke="#000" stroke-width="0.8"/>
<rect x="449.2" y="61.8" width="11.6" height="9.3" fill="#fff" stroke="#000" stroke-width="1.5"/>
<text transform="translate(466.6,70.7) scale(0.95,1)" font-size="10.3">CCR7<tspan dy="-3.9" font-size="7.4">hi</tspan></text>
<path d="M466.8 71.5 H497.8" stroke="#000" stroke-width="0.8"/>
<text x="361.7" y="91.70" font-size="7.85" font-weight="bold" text-anchor="end">Lymphocyte activation/differentiation</text>
<rect x="372.0" y="84.2" width="65.6" height="9.6" fill="#6e6e6e" stroke="#000" stroke-width="1.5"/>
<rect x="437.6" y="84.2" width="4.6" height="9.6" fill="#fff" stroke="#000" stroke-width="1.5"/>
<text x="361.7" y="106.50" font-size="7.85" font-weight="bold" text-anchor="end">Regulation of programmed cell death</text>
<rect x="393.6" y="99.0" width="44.0" height="9.6" fill="#6e6e6e" stroke="#000" stroke-width="1.5"/>
<rect x="437.6" y="99.0" width="13.0" height="9.6" fill="#fff" stroke="#000" stroke-width="1.5"/>
<text x="361.7" y="121.25" font-size="7.85" font-weight="bold" text-anchor="end">Lymphocyte activation during immune response</text>
<rect x="399.4" y="113.7" width="38.2" height="9.6" fill="#6e6e6e" stroke="#000" stroke-width="1.5"/>
<text x="361.7" y="136.15" font-size="7.85" font-weight="bold" text-anchor="end">Unfolded protein response</text>
<rect x="409.9" y="128.6" width="27.7" height="9.6" fill="#6e6e6e" stroke="#000" stroke-width="1.5"/>
<text x="361.7" y="150.85" font-size="7.85" font-weight="bold" text-anchor="end">Lymphocyte mediated immunity</text>
<rect x="417.5" y="143.3" width="20.1" height="9.6" fill="#6e6e6e" stroke="#000" stroke-width="1.5"/>
<text x="361.7" y="165.55" font-size="7.85" font-weight="bold" text-anchor="end">Cellular homeostasis</text>
<rect x="433.9" y="158.0" width="3.7" height="9.6" fill="#6e6e6e" stroke="#000" stroke-width="1.5"/>
<rect x="437.6" y="158.0" width="13.6" height="9.6" fill="#fff" stroke="#000" stroke-width="1.5"/>
<text x="361.7" y="180.35" font-size="7.85" font-weight="bold" text-anchor="end">Regulation of cell proliferation</text>
<rect x="437.6" y="172.8" width="14.9" height="9.6" fill="#fff" stroke="#000" stroke-width="1.5"/>
<g stroke="#000" stroke-width="1.4" fill="none">
<path d="M363.6 81.6 V184.1 H490.7"/>
<path d="M437.3 81.6 V184" stroke-width="1.2"/>
<path d="M385 184 V187.8"/>
<path d="M411.3 184 V187.8"/>
<path d="M437.6 184 V187.8"/>
<path d="M463.8 184 V187.8"/>
<path d="M490 184 V187.8"/>
</g>
<text transform="translate(388.5,193.7) rotate(-45)" font-size="7.4" text-anchor="end" stroke="#000" stroke-width="0.25">5.0</text>
<text transform="translate(414.8,193.7) rotate(-45)" font-size="7.4" text-anchor="end" stroke="#000" stroke-width="0.25">2.5</text>
<text transform="translate(441.1,193.7) rotate(-45)" font-size="7.4" text-anchor="end" stroke="#000" stroke-width="0.25">0.0</text>
<text transform="translate(467.3,193.7) rotate(-45)" font-size="7.4" text-anchor="end" stroke="#000" stroke-width="0.25">2.5</text>
<text transform="translate(493.5,193.7) rotate(-45)" font-size="7.4" text-anchor="end" stroke="#000" stroke-width="0.25">5.0</text>
<text x="437.8" y="212.6" font-size="10.4" text-anchor="middle" fill="#111" stroke="#111" stroke-width="0.15">Enrichment score</text>
<text x="0.5" y="296.0" font-size="14.6" font-weight="bold">C</text>
<text transform="translate(10.7,494.3) rotate(-90)" font-size="11.8" fill="#0a0a0a">Normalized Expression Values</text>
<text x="27.6" y="304.59999999999997" font-size="10.6" fill="#111">CCR7</text>
<g stroke="#000" stroke-width="1.5" fill="none">
<path d="M32.4 306.79999999999995 V401.55 H82.7"/>
<path d="M29.00 307.40 H32.4" stroke-width="1.2"/>
<path d="M29.00 326.23 H32.4" stroke-width="1.2"/>
<path d="M29.00 345.06 H32.4" stroke-width="1.2"/>
<path d="M29.00 363.89 H32.4" stroke-width="1.2"/>
<path d="M29.00 382.72 H32.4" stroke-width="1.2"/>
<path d="M29.00 401.55 H32.4" stroke-width="1.2"/>
</g>
<text x="28.40" y="309.85" font-size="6.9" font-weight="bold" text-anchor="end">15</text>
<text x="28.40" y="328.68" font-size="6.9" font-weight="bold" text-anchor="end">14</text>
<text x="28.40" y="347.51" font-size="6.9" font-weight="bold" text-anchor="end">13</text>
<text x="28.40" y="366.34" font-size="6.9" font-weight="bold" text-anchor="end">12</text>
<text x="28.40" y="385.17" font-size="6.9" font-weight="bold" text-anchor="end">11</text>
<text x="28.40" y="404.00" font-size="6.9" font-weight="bold" text-anchor="end">10</text>
<g stroke="#000" stroke-width="1.3" fill="none">
<path d="M45.35 339.65 V338.4 M40.75 338.4 H49.95"/>
<rect x="37.25" y="339.65" width="16.20" height="4.40" fill="#fff"/>
</g>
<g stroke="#000" stroke-width="1.3" fill="none">
<path d="M70.55 386.55 V391.3 M65.95 391.3 H75.15"/>
<rect x="62.15" y="370.45" width="16.80" height="16.10" fill="#6e6e6e"/>
<path d="M62.15 372.0 H78.95" stroke="#000"/>
</g>
<text x="46.3" y="341.1" font-size="14" font-weight="bold" text-anchor="middle">*</text>
<text x="97.1" y="304.59999999999997" font-size="10.6" fill="#111">CXCR3</text>
<g stroke="#000" stroke-width="1.5" fill="none">
<path d="M101.0 306.79999999999995 V401.55 H151.4"/>
<path d="M97.60 307.40 H101.0" stroke-width="1.2"/>
<path d="M97.60 330.94 H101.0" stroke-width="1.2"/>
<path d="M97.60 354.48 H101.0" stroke-width="1.2"/>
<path d="M97.60 378.01 H101.0" stroke-width="1.2"/>
<path d="M97.60 401.55 H101.0" stroke-width="1.2"/>
</g>
<text x="97.00" y="309.85" font-size="6.9" font-weight="bold" text-anchor="end">12</text>
<text x="97.00" y="333.39" font-size="6.9" font-weight="bold" text-anchor="end">10</text>
<text x="97.00" y="356.93" font-size="6.9" font-weight="bold" text-anchor="end">8</text>
<text x="97.00" y="380.46" font-size="6.9" font-weight="bold" text-anchor="end">6</text>
<text x="97.00" y="404.00" font-size="6.9" font-weight="bold" text-anchor="end">4</text>
<g stroke="#000" stroke-width="1.3" fill="none">
<rect x="105.25" y="367.55" width="16.50" height="12.40" fill="#fff"/>
<path d="M105.25 373.9 H121.75" stroke="#000"/>
</g>
<g stroke="#000" stroke-width="1.3" fill="none">
<rect x="130.0" y="336.9" width="17.80" height="3.50" fill="#151515" stroke="none"/>
</g>
<text x="139.4" y="339.7" font-size="14" font-weight="bold" text-anchor="middle">*</text>
<text x="164.9" y="304.59999999999997" font-size="10.35" fill="#111">IL18R1</text>
<g stroke="#000" stroke-width="1.5" fill="none">
<path d="M168.0 306.79999999999995 V401.55 H219.0"/>
<path d="M164.60 307.40 H168.0" stroke-width="1.2"/>
<path d="M164.60 323.09 H168.0" stroke-width="1.2"/>
<path d="M164.60 338.78 H168.0" stroke-width="1.2"/>
<path d="M164.60 354.48 H168.0" stroke-width="1.2"/>
<path d="M164.60 370.17 H168.0" stroke-width="1.2"/>
<path d="M164.60 385.86 H168.0" stroke-width="1.2"/>
<path d="M164.60 401.55 H168.0" stroke-width="1.2"/>
</g>
<text x="164.00" y="309.85" font-size="6.9" font-weight="bold" text-anchor="end">11</text>
<text x="164.00" y="325.54" font-size="6.9" font-weight="bold" text-anchor="end">10</text>
<text x="164.00" y="341.23" font-size="6.9" font-weight="bold" text-anchor="end">9</text>
<text x="164.00" y="356.93" font-size="6.9" font-weight="bold" text-anchor="end">8</text>
<text x="164.00" y="372.62" font-size="6.9" font-weight="bold" text-anchor="end">7</text>
<text x="164.00" y="388.31" font-size="6.9" font-weight="bold" text-anchor="end">6</text>
<text x="164.00" y="404.00" font-size="6.9" font-weight="bold" text-anchor="end">5</text>
<g stroke="#000" stroke-width="1.3" fill="none">
<path d="M181.15 364.34999999999997 V361.5 M176.55 361.5 H185.75"/>
<path d="M181.15 381.35 V382.6 M176.55 382.6 H185.75"/>
<rect x="172.95" y="364.35" width="16.40" height="17.00" fill="#fff"/>
<path d="M172.95 375.7 H189.35" stroke="#000"/>
</g>
<g stroke="#000" stroke-width="1.3" fill="none">
<path d="M206.35 344.05 V346.3 M201.75 346.3 H210.95"/>
<rect x="198.15" y="329.35" width="16.40" height="14.70" fill="#6e6e6e"/>
<path d="M198.15 336.0 H214.55" stroke="#000"/>
</g>
<text x="207.1" y="331.6" font-size="14" font-weight="bold" text-anchor="middle">*</text>
<text x="233.4" y="304.59999999999997" font-size="10.6" fill="#111">IL6R</text>
<g stroke="#000" stroke-width="1.5" fill="none">
<path d="M236.5 306.79999999999995 V401.55 H289.6"/>
<path d="M233.10 307.40 H236.5" stroke-width="1.2"/>
<path d="M233.10 330.94 H236.5" stroke-width="1.2"/>
<path d="M233.10 354.48 H236.5" stroke-width="1.2"/>
<path d="M233.10 378.01 H236.5" stroke-width="1.2"/>
<path d="M233.10 401.55 H236.5" stroke-width="1.2"/>
</g>
<text x="232.50" y="309.85" font-size="6.9" font-weight="bold" text-anchor="end">9</text>
<text x="232.50" y="333.39" font-size="6.9" font-weight="bold" text-anchor="end">8</text>
<text x="232.50" y="356.93" font-size="6.9" font-weight="bold" text-anchor="end">7</text>
<text x="232.50" y="380.46" font-size="6.9" font-weight="bold" text-anchor="end">6</text>
<text x="232.50" y="404.00" font-size="6.9" font-weight="bold" text-anchor="end">5</text>
<g stroke="#000" stroke-width="1.3" fill="none">
<path d="M250.00 340.65 V339.0 M245.40 339.0 H254.60"/>
<path d="M250.00 354.95000000000005 V358.0 M245.40 358.0 H254.60"/>
<rect x="241.25" y="340.65" width="17.50" height="14.30" fill="#fff"/>
<path d="M241.25 346.7 H258.75" stroke="#000"/>
</g>
<g stroke="#000" stroke-width="1.3" fill="none">
<path d="M276.65 368.34999999999997 V365.7 M272.05 365.7 H281.25"/>
<rect x="267.95" y="368.35" width="17.40" height="15.80" fill="#6e6e6e"/>
<path d="M267.95 379.6 H285.35" stroke="#000"/>
</g>
<text x="277.9" y="368.3" font-size="14" font-weight="bold" text-anchor="middle">*</text>
<text x="304.2" y="304.59999999999997" font-size="10.0" fill="#111">KLRG1</text>
<g stroke="#000" stroke-width="1.5" fill="none">
<path d="M308.2 306.79999999999995 V401.55 H358.8"/>
<path d="M304.80 307.40 H308.2" stroke-width="1.2"/>
<path d="M304.80 326.23 H308.2" stroke-width="1.2"/>
<path d="M304.80 345.06 H308.2" stroke-width="1.2"/>
<path d="M304.80 363.89 H308.2" stroke-width="1.2"/>
<path d="M304.80 382.72 H308.2" stroke-width="1.2"/>
<path d="M304.80 401.55 H308.2" stroke-width="1.2"/>
</g>
<text x="304.20" y="309.85" font-size="6.9" font-weight="bold" text-anchor="end">11</text>
<text x="304.20" y="328.68" font-size="6.9" font-weight="bold" text-anchor="end">10</text>
<text x="304.20" y="347.51" font-size="6.9" font-weight="bold" text-anchor="end">9</text>
<text x="304.20" y="366.34" font-size="6.9" font-weight="bold" text-anchor="end">8</text>
<text x="304.20" y="385.17" font-size="6.9" font-weight="bold" text-anchor="end">7</text>
<text x="304.20" y="404.00" font-size="6.9" font-weight="bold" text-anchor="end">6</text>
<g stroke="#000" stroke-width="1.3" fill="none">
<path d="M320.70 390.35 V391.9 M316.10 391.9 H325.30"/>
<rect x="312.05" y="375.85" width="17.30" height="14.50" fill="#fff"/>
<path d="M312.05 381.2 H329.35" stroke="#000"/>
</g>
<g stroke="#000" stroke-width="1.3" fill="none">
<path d="M346.45 337.15000000000003 V340.0 M341.85 340.0 H351.05"/>
<rect x="337.85" y="323.65" width="17.20" height="13.50" fill="#6e6e6e"/>
<path d="M337.85 326.8 H355.05" stroke="#000"/>
</g>
<text x="346.3" y="325.90000000000003" font-size="14" font-weight="bold" text-anchor="middle">*</text>
<text x="376.6" y="304.59999999999997" font-size="10.6" fill="#111">FAS</text>
<g stroke="#000" stroke-width="1.5" fill="none">
<path d="M379.2 306.79999999999995 V401.55 H428.4"/>
<path d="M375.80 307.40 H379.2" stroke-width="1.2"/>
<path d="M375.80 323.09 H379.2" stroke-width="1.2"/>
<path d="M375.80 338.78 H379.2" stroke-width="1.2"/>
<path d="M375.80 354.48 H379.2" stroke-width="1.2"/>
<path d="M375.80 370.17 H379.2" stroke-width="1.2"/>
<path d="M375.80 385.86 H379.2" stroke-width="1.2"/>
<path d="M375.80 401.55 H379.2" stroke-width="1.2"/>
</g>
<text x="375.20" y="309.85" font-size="6.9" font-weight="bold" text-anchor="end">8.0</text>
<text x="375.20" y="325.54" font-size="6.9" font-weight="bold" text-anchor="end">7.5</text>
<text x="375.20" y="341.23" font-size="6.9" font-weight="bold" text-anchor="end">7.0</text>
<text x="375.20" y="356.93" font-size="6.9" font-weight="bold" text-anchor="end">6.5</text>
<text x="375.20" y="372.62" font-size="6.9" font-weight="bold" text-anchor="end">6.0</text>
<text x="375.20" y="388.31" font-size="6.9" font-weight="bold" text-anchor="end">5.5</text>
<text x="375.20" y="404.00" font-size="6.9" font-weight="bold" text-anchor="end">5.0</text>
<g stroke="#000" stroke-width="1.3" fill="none">
<path d="M391.50 378.84999999999997 V377.6 M386.90 377.6 H396.10"/>
<rect x="383.65" y="378.85" width="15.70" height="6.50" fill="#fff"/>
<path d="M383.65 383.8 H399.35" stroke="#000"/>
</g>
<g stroke="#000" stroke-width="1.3" fill="none">
<path d="M416.10 332.84999999999997 V331.1 M411.50 331.1 H420.70"/>
<rect x="407.85" y="332.85" width="16.50" height="14.30" fill="#6e6e6e"/>
<path d="M407.85 341.4 H424.35" stroke="#000"/>
<path d="M408.50 344.2 H423.70" stroke="#9a9a9a" stroke-width="0.8"/>
</g>
<text x="416.8" y="334.2" font-size="14" font-weight="bold" text-anchor="middle">*</text>
<g transform="translate(0,0.5)">
<text x="29.9" y="425.2" font-size="10.6" fill="#111">IFNG</text>
<g stroke="#000" stroke-width="1.5" fill="none">
<path d="M32.4 427.4 V522.6 H82.6"/>
<path d="M29.00 428.00 H32.4" stroke-width="1.2"/>
<path d="M29.00 446.92 H32.4" stroke-width="1.2"/>
<path d="M29.00 465.84 H32.4" stroke-width="1.2"/>
<path d="M29.00 484.76 H32.4" stroke-width="1.2"/>
<path d="M29.00 503.68 H32.4" stroke-width="1.2"/>
<path d="M29.00 522.60 H32.4" stroke-width="1.2"/>
</g>
<text x="28.40" y="430.45" font-size="6.9" font-weight="bold" text-anchor="end">10</text>
<text x="28.40" y="449.37" font-size="6.9" font-weight="bold" text-anchor="end">9</text>
<text x="28.40" y="468.29" font-size="6.9" font-weight="bold" text-anchor="end">8</text>
<text x="28.40" y="487.21" font-size="6.9" font-weight="bold" text-anchor="end">7</text>
<text x="28.40" y="506.13" font-size="6.9" font-weight="bold" text-anchor="end">6</text>
<text x="28.40" y="525.05" font-size="6.9" font-weight="bold" text-anchor="end">5</text>
<g stroke="#000" stroke-width="1.3" fill="none">
<rect x="37.15" y="500.95" width="16.40" height="9.70" fill="#fff"/>
<path d="M37.15 505.8 H53.55" stroke="#000"/>
</g>
<g stroke="#000" stroke-width="1.3" fill="none">
<path d="M70.75 452.65 V448.0 M66.15 448.0 H75.35"/>
<path d="M70.75 474.65000000000003 V476.2 M66.15 476.2 H75.35"/>
<rect x="62.45" y="452.65" width="16.60" height="22.00" fill="#6e6e6e"/>
<path d="M62.45 468.5 H79.05" stroke="#000"/>
</g>
<text x="72.0" y="450.3" font-size="14" font-weight="bold" text-anchor="middle">*</text>
<text x="98.2" y="425.2" font-size="10.2" fill="#111">TNF</text>
<g stroke="#000" stroke-width="1.5" fill="none">
<path d="M100.8 427.4 V522.6 H151.0"/>
<path d="M97.40 428.00 H100.8" stroke-width="1.2"/>
<path d="M97.40 446.92 H100.8" stroke-width="1.2"/>
<path d="M97.40 465.84 H100.8" stroke-width="1.2"/>
<path d="M97.40 484.76 H100.8" stroke-width="1.2"/>
<path d="M97.40 503.68 H100.8" stroke-width="1.2"/>
<path d="M97.40 522.60 H100.8" stroke-width="1.2"/>
</g>
<text x="96.80" y="430.45" font-size="6.9" font-weight="bold" text-anchor="end">10</text>
<text x="96.80" y="449.37" font-size="6.9" font-weight="bold" text-anchor="end">9</text>
<text x="96.80" y="468.29" font-size="6.9" font-weight="bold" text-anchor="end">8</text>
<text x="96.80" y="487.21" font-size="6.9" font-weight="bold" text-anchor="end">7</text>
<text x="96.80" y="506.13" font-size="6.9" font-weight="bold" text-anchor="end">6</text>
<text x="96.80" y="525.05" font-size="6.9" font-weight="bold" text-anchor="end">5</text>
<g stroke="#000" stroke-width="1.3" fill="none">
<path d="M113.50 480.95 V474.3 M108.90 474.3 H118.10"/>
<path d="M113.50 510.15000000000003 V512.3 M108.90 512.3 H118.10"/>
<rect x="105.25" y="480.95" width="16.50" height="29.20" fill="#fff"/>
<path d="M105.25 503.2 H121.75" stroke="#000"/>
</g>
<g stroke="#000" stroke-width="1.3" fill="none">
<path d="M139.10 442.65 V439.3 M134.50 439.3 H143.70"/>
<path d="M139.10 469.55 V474.3 M134.50 474.3 H143.70"/>
<rect x="130.65" y="442.65" width="16.90" height="26.90" fill="#6e6e6e"/>
<path d="M130.65 454.8 H147.55" stroke="#000"/>
</g>
<text x="165.5" y="425.2" font-size="10.6" fill="#111">CCL5</text>
<g stroke="#000" stroke-width="1.5" fill="none">
<path d="M168.6 427.4 V522.6 H218.5"/>
<path d="M165.20 428.00 H168.6" stroke-width="1.2"/>
<path d="M165.20 451.65 H168.6" stroke-width="1.2"/>
<path d="M165.20 475.30 H168.6" stroke-width="1.2"/>
<path d="M165.20 498.95 H168.6" stroke-width="1.2"/>
<path d="M165.20 522.60 H168.6" stroke-width="1.2"/>
</g>
<text x="164.60" y="430.45" font-size="6.9" font-weight="bold" text-anchor="end">20</text>
<text x="164.60" y="454.10" font-size="6.9" font-weight="bold" text-anchor="end">15</text>
<text x="164.60" y="477.75" font-size="6.9" font-weight="bold" text-anchor="end">10</text>
<text x="164.60" y="501.40" font-size="6.9" font-weight="bold" text-anchor="end">5</text>
<text x="164.60" y="525.05" font-size="6.9" font-weight="bold" text-anchor="end">0</text>
<g stroke="#000" stroke-width="1.3" fill="none">
<path d="M182.35 469.65 V468.1 M177.75 468.1 H186.95"/>
<path d="M182.35 485.05 V489.4 M177.75 489.4 H186.95"/>
<rect x="173.65" y="469.65" width="17.40" height="15.40" fill="#fff"/>
<path d="M173.65 474.3 H191.05" stroke="#000"/>
</g>
<g stroke="#000" stroke-width="1.3" fill="none">
<rect x="198.2" y="453.6" width="18.00" height="2.40" fill="#151515" stroke="none"/>
</g>
<text x="208.0" y="457.3" font-size="14" font-weight="bold" text-anchor="middle">*</text>
<text x="233.3" y="425.2" font-size="10.6" fill="#111">PRF1</text>
<g stroke="#000" stroke-width="1.5" fill="none">
<path d="M236.6 427.4 V522.6 H287.0"/>
<path d="M233.20 428.00 H236.6" stroke-width="1.2"/>
<path d="M233.20 446.92 H236.6" stroke-width="1.2"/>
<path d="M233.20 465.84 H236.6" stroke-width="1.2"/>
<path d="M233.20 484.76 H236.6" stroke-width="1.2"/>
<path d="M233.20 503.68 H236.6" stroke-width="1.2"/>
<path d="M233.20 522.60 H236.6" stroke-width="1.2"/>
</g>
<text x="232.60" y="430.45" font-size="6.9" font-weight="bold" text-anchor="end">12</text>
<text x="232.60" y="449.37" font-size="6.9" font-weight="bold" text-anchor="end">11</text>
<text x="232.60" y="468.29" font-size="6.9" font-weight="bold" text-anchor="end">10</text>
<text x="232.60" y="487.21" font-size="6.9" font-weight="bold" text-anchor="end">9</text>
<text x="232.60" y="506.13" font-size="6.9" font-weight="bold" text-anchor="end">8</text>
<text x="232.60" y="525.05" font-size="6.9" font-weight="bold" text-anchor="end">7</text>
<g stroke="#000" stroke-width="1.3" fill="none">
<path d="M249.55 462.95 V456.0 M244.95 456.0 H254.15"/>
<path d="M249.55 495.55 V498.0 M244.95 498.0 H254.15"/>
<rect x="241.25" y="462.95" width="16.60" height="32.60" fill="#fff"/>
<path d="M241.25 484.9 H257.85" stroke="#000"/>
</g>
<g stroke="#000" stroke-width="1.3" fill="none">
<path d="M274.85 450.15000000000003 V452.4 M270.25 452.4 H279.45"/>
<rect x="266.25" y="440.15" width="17.20" height="10.00" fill="#6e6e6e"/>
<path d="M266.25 442.1 H283.45" stroke="#000"/>
</g>
<text x="303.5" y="425.2" font-size="10.3" fill="#111">GZMB</text>
<g stroke="#000" stroke-width="1.5" fill="none">
<path d="M308.0 427.4 V522.6 H358.0"/>
<path d="M304.60 428.00 H308.0" stroke-width="1.2"/>
<path d="M304.60 459.53 H308.0" stroke-width="1.2"/>
<path d="M304.60 491.07 H308.0" stroke-width="1.2"/>
<path d="M304.60 522.60 H308.0" stroke-width="1.2"/>
</g>
<text x="304.00" y="430.45" font-size="6.9" font-weight="bold" text-anchor="end">15</text>
<text x="304.00" y="461.98" font-size="6.9" font-weight="bold" text-anchor="end">10</text>
<text x="304.00" y="493.52" font-size="6.9" font-weight="bold" text-anchor="end">5</text>
<text x="304.00" y="525.05" font-size="6.9" font-weight="bold" text-anchor="end">0</text>
<g stroke="#000" stroke-width="1.3" fill="none">
<path d="M320.80 459.84999999999997 V455.5 M316.20 455.5 H325.40"/>
<path d="M320.80 483.35 V487.3 M316.20 487.3 H325.40"/>
<rect x="312.25" y="459.85" width="17.10" height="23.50" fill="#fff"/>
<path d="M312.25 471.5 H329.35" stroke="#000"/>
</g>
<g stroke="#000" stroke-width="1.3" fill="none">
<path d="M346.00 467.75 V470.8 M341.40 470.8 H350.60"/>
<rect x="337.65" y="454.85" width="16.70" height="12.90" fill="#6e6e6e"/>
<path d="M337.65 458.4 H354.35" stroke="#000"/>
</g>
<text x="374.3" y="425.2" font-size="10.3" fill="#111">GZMK</text>
<g stroke="#000" stroke-width="1.5" fill="none">
<path d="M378.9 427.4 V522.6 H429.0"/>
<path d="M375.50 428.00 H378.9" stroke-width="1.2"/>
<path d="M375.50 459.53 H378.9" stroke-width="1.2"/>
<path d="M375.50 491.07 H378.9" stroke-width="1.2"/>
<path d="M375.50 522.60 H378.9" stroke-width="1.2"/>
</g>
<text x="374.90" y="430.45" font-size="6.9" font-weight="bold" text-anchor="end">15</text>
<text x="374.90" y="461.98" font-size="6.9" font-weight="bold" text-anchor="end">10</text>
<text x="374.90" y="493.52" font-size="6.9" font-weight="bold" text-anchor="end">5</text>
<text x="374.90" y="525.05" font-size="6.9" font-weight="bold" text-anchor="end">0</text>
<g stroke="#000" stroke-width="1.3" fill="none">
<path d="M391.30 470.04999999999995 V464.9 M386.70 464.9 H395.90"/>
<path d="M391.30 486.55 V487.8 M386.70 487.8 H395.90"/>
<rect x="383.25" y="470.05" width="16.10" height="16.50" fill="#fff"/>
<path d="M383.25 484.2 H399.35" stroke="#000"/>
</g>
<g stroke="#000" stroke-width="1.3" fill="none">
<rect x="407.0" y="436.2" width="18.50" height="3.40" fill="#151515" stroke="none"/>
</g>
<text x="417.4" y="440.1" font-size="14" font-weight="bold" text-anchor="middle">*</text>
<text x="448.5" y="425.2" font-size="10.25" fill="#111">GZMA</text>
<g stroke="#000" stroke-width="1.5" fill="none">
<path d="M453.0 427.4 V522.6 H503.0"/>
<path d="M449.60 428.00 H453.0" stroke-width="1.2"/>
<path d="M449.60 451.65 H453.0" stroke-width="1.2"/>
<path d="M449.60 475.30 H453.0" stroke-width="1.2"/>
<path d="M449.60 498.95 H453.0" stroke-width="1.2"/>
<path d="M449.60 522.60 H453.0" stroke-width="1.2"/>
</g>
<text x="449.00" y="430.45" font-size="6.9" font-weight="bold" text-anchor="end">14</text>
<text x="449.00" y="454.10" font-size="6.9" font-weight="bold" text-anchor="end">12</text>
<text x="449.00" y="477.75" font-size="6.9" font-weight="bold" text-anchor="end">10</text>
<text x="449.00" y="501.40" font-size="6.9" font-weight="bold" text-anchor="end">8</text>
<text x="449.00" y="525.05" font-size="6.9" font-weight="bold" text-anchor="end">6</text>
<g stroke="#000" stroke-width="1.3" fill="none">
<path d="M465.45 475.84999999999997 V468.7 M460.85 468.7 H470.05"/>
<path d="M465.45 505.15000000000003 V508.2 M460.85 508.2 H470.05"/>
<rect x="457.15" y="475.85" width="16.60" height="29.30" fill="#fff"/>
<path d="M457.15 496.9 H473.75" stroke="#000"/>
</g>
<g stroke="#000" stroke-width="1.3" fill="none">
<rect x="482.15" y="445.05" width="17.00" height="4.20" fill="#333"/>
<path d="M482.15 447.0 H499.15" stroke="#a8a8a8"/>
</g>
<text x="490.9" y="446.7" font-size="14" font-weight="bold" text-anchor="middle">*</text>
</g>
<rect x="450.5" y="328.7" width="11.0" height="10.2" fill="#fff" stroke="#000" stroke-width="1.8"/>
<text x="467" y="338.3" font-size="11.1" fill="#111">CCR7<tspan dy="-4.4" font-size="7.6">hi</tspan></text>
<rect x="450.5" y="348.5" width="11.0" height="10.2" fill="#6e6e6e" stroke="#000" stroke-width="1.8"/>
<text x="467" y="358" font-size="11.1" fill="#111">CXCR3<tspan dy="-4.4" font-size="7.6">hi</tspan></text>
</svg>
</body></html>
